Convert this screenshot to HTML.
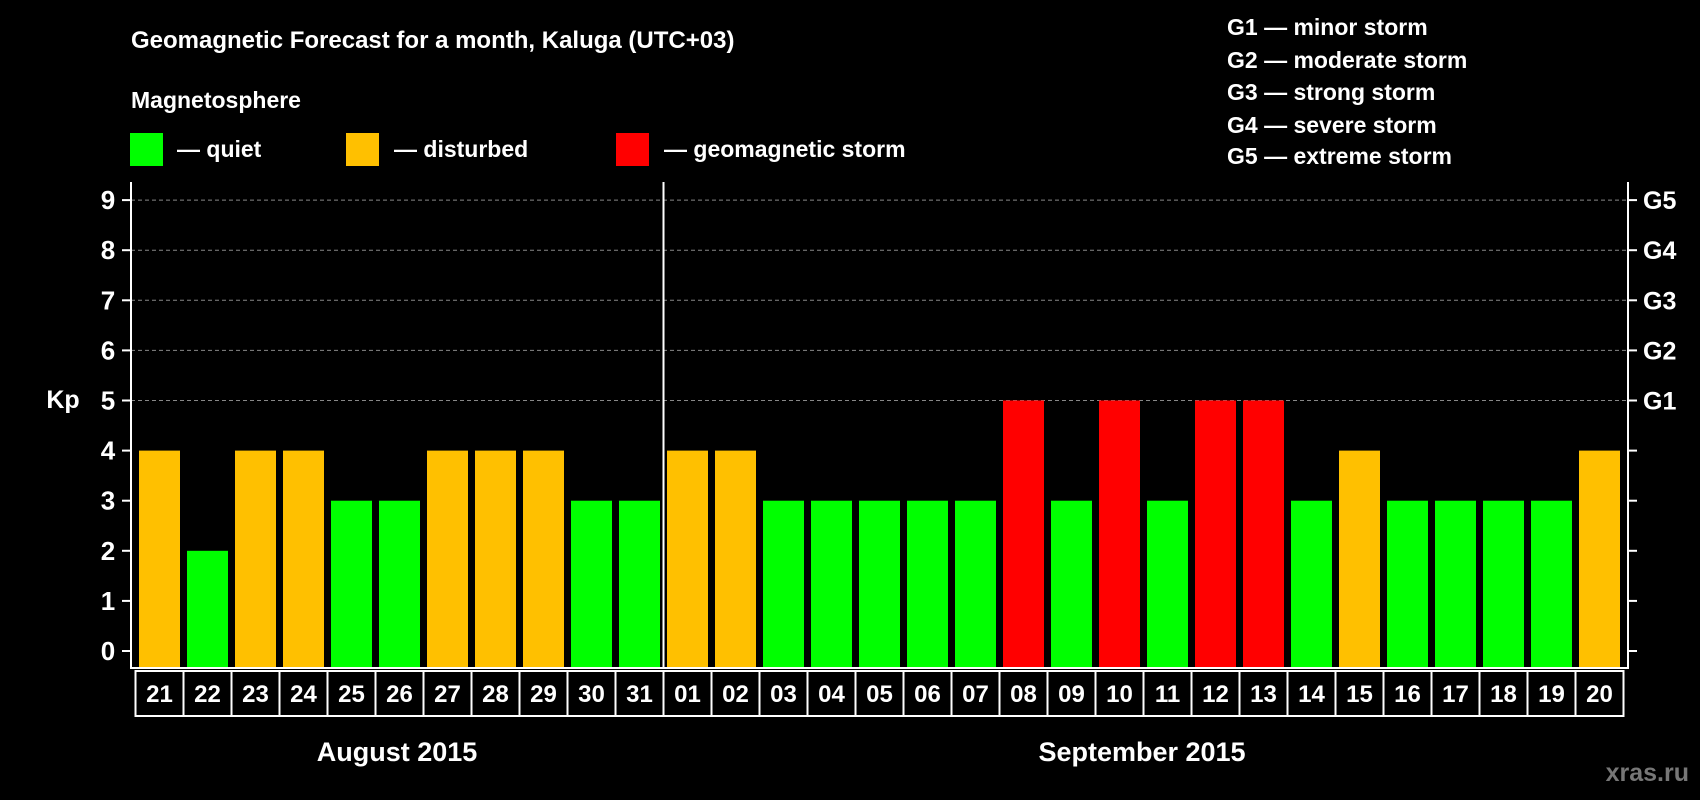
<!DOCTYPE html>
<html><head><meta charset="utf-8"><style>
body{margin:0;background:#000;width:1700px;height:800px;overflow:hidden}
svg{display:block;font-family:"Liberation Sans",Arial,sans-serif;font-weight:bold}
</style></head><body>
<svg id="c" width="1700" height="800">
<text x="131" y="48" fill="#fff" font-size="24">Geomagnetic Forecast for a month, Kaluga (UTC+03)</text>
<text x="131" y="108" fill="#fff" font-size="23">Magnetosphere</text>
<rect x="130" y="133" width="33" height="33" fill="#00ff00"/>
<text x="177" y="157" fill="#fff" font-size="23">— quiet</text>
<rect x="346" y="133" width="33" height="33" fill="#ffc000"/>
<text x="394" y="157" fill="#fff" font-size="23">— disturbed</text>
<rect x="616" y="133" width="33" height="33" fill="#ff0000"/>
<text x="664" y="157" fill="#fff" font-size="23">— geomagnetic storm</text>
<g fill="#fff" font-size="23">
<text x="1227" y="35">G1 — minor storm</text>
<text x="1227" y="68">G2 — moderate storm</text>
<text x="1227" y="100">G3 — strong storm</text>
<text x="1227" y="133">G4 — severe storm</text>
<text x="1227" y="164">G5 — extreme storm</text>
</g>
<text x="63" y="408" fill="#fff" font-size="25" text-anchor="middle">Kp</text>
<text x="397" y="761" fill="#fff" font-size="27" text-anchor="middle">August 2015</text>
<text x="1142" y="761" fill="#fff" font-size="27" text-anchor="middle">September 2015</text>
<text x="1689" y="781" fill="#777" font-size="25" text-anchor="end">xras.ru</text>
<g id="g"></g>
</svg>
<script>
const days=["21","22","23","24","25","26","27","28","29","30","31","01","02","03","04","05","06","07","08","09","10","11","12","13","14","15","16","17","18","19","20"];
const kp=[4,2,4,4,3,3,4,4,4,3,3,4,4,3,3,3,3,3,5,3,5,3,5,5,3,4,3,3,3,3,4];
const yTicks=[0,1,2,3,4,5,6,7,8,9];
const gLabels=["G1","G2","G3","G4","G5"];
const NS="http://www.w3.org/2000/svg";
const g=document.getElementById('g');
const L=131,R=1628,T=182,B=668,x0=135.5,dw=48;
const y=v=>651-v*50.1;
const x=i=>x0+i*dw;
function mk(t,a){const e=document.createElementNS(NS,t);for(const k in a)e.setAttribute(k,a[k]);g.appendChild(e);return e;}
yTicks.forEach(v=>{
  if(v>=5){const l=mk('line',{x1:L,x2:R,y1:y(v),y2:y(v),stroke:'#888','stroke-dasharray':'4,3','stroke-width':1});
  
  }
  const t1=mk('line',{x1:L-9,x2:L,y1:y(v),y2:y(v),stroke:'#fff','stroke-width':2});
  
  
  const t2=mk('line',{x1:R,x2:R+9,y1:y(v),y2:y(v),stroke:'#fff','stroke-width':2});
  
  
  const tx=mk('text',{x:108,y:y(v)+9,fill:'#fff','font-size':26,'text-anchor':'middle'});
  tx.textContent=v;
  
  
});
gLabels.forEach((s,i)=>{
  const tx=mk('text',{x:1643,y:y(5+i)+9,fill:'#fff','font-size':25});
  tx.textContent=s;
  
  
});
kp.forEach((v,i)=>{
  const col=v>=5?'#ff0000':v>=4?'#ffc000':'#00ff00';
  const r=mk('rect',{x:x(i)+3.5,y:y(v),width:41,height:B-y(v),fill:col});
  
  
  const b=mk('rect',{x:x(i),y:671,width:dw,height:45,fill:'none',stroke:'#fff','stroke-width':2});
  
  
  const tx=mk('text',{x:x(i)+dw/2,y:702,fill:'#fff','font-size':24,'text-anchor':'middle'});
  tx.textContent=days[i];
  
  
});
const ax=mk('path',{d:`M${L} ${T}V${B}H${R}V${T}`,fill:'none',stroke:'#fff','stroke-width':2});


const dv=mk('line',{x1:x(11),x2:x(11),y1:T,y2:B,stroke:'#fff','stroke-width':2});


</script>
</body></html>
